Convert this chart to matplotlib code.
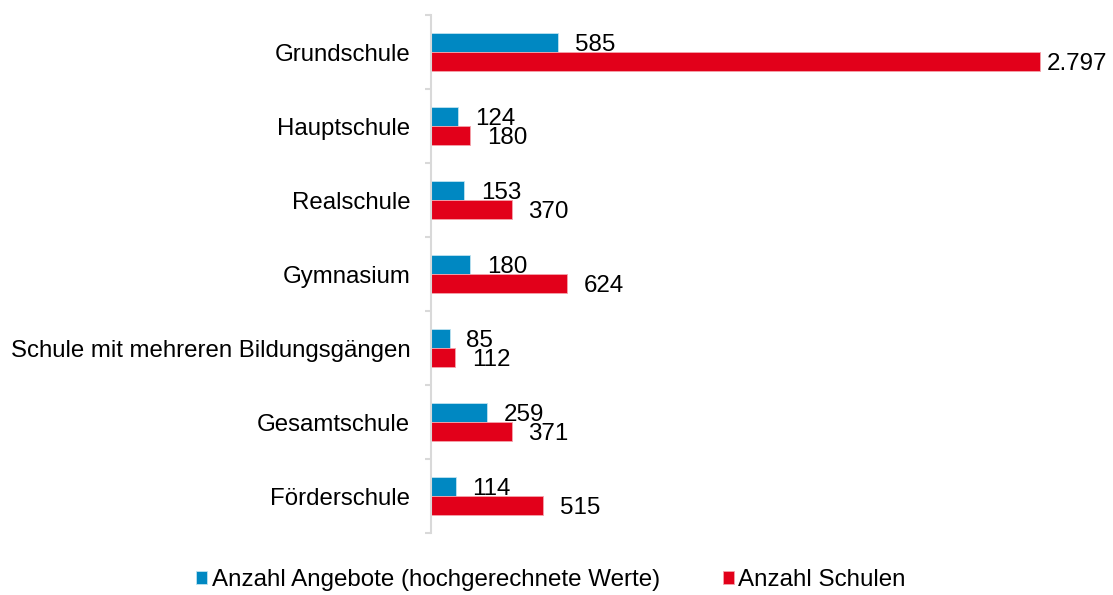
import matplotlib.pyplot as plt
import numpy as np

plt.rcParams['font.family'] = ['Liberation Sans', 'DejaVu Sans']

# Daten
kategorien = ['Grundschule', 'Hauptschule', 'Realschule', 'Gymnasium',
              'Schule mit mehreren Bildungsgängen', 'Gesamtschule', 'Förderschule']
angebote = [585, 124, 153, 180, 85, 259, 114]
schulen = [2797, 180, 370, 624, 112, 371, 515]
legende = ['Anzahl Angebote (hochgerechnete Werte)', 'Anzahl Schulen']

blau = '#0088C2'
rot = '#E2001A'

def fmt(v):
    return f'{v:,}'.replace(',', '.')

fig = plt.figure(figsize=(11.13, 5.95), dpi=100)
ax = fig.add_axes([431 / 1113, 1 - 533 / 595, (1100 - 431) / 1113, 518 / 595])

y = np.arange(len(kategorien))
h = 0.257
b1 = ax.barh(y - h / 2, angebote, height=h, color=blau, edgecolor='#BFE3F0', linewidth=0.6)
b2 = ax.barh(y + h / 2, schulen, height=h, color=rot, edgecolor='#F4A3AC', linewidth=0.6)

ax.set_xlim(0, 2797 * 669 / 609)
ax.set_ylim(len(kategorien) - 0.5, -0.5)

# Datenbeschriftungen
for bars, werte in [(b1, angebote), (b2, schulen)]:
    for bar, v in zip(bars, werte):
        off = 5 if v == max(schulen) else 12
        ax.annotate(fmt(v), (v, bar.get_y() + bar.get_height() / 2),
                    xytext=(off, -1.5), textcoords='offset points',
                    va='center', ha='left', fontsize=17.4, color='black')

# Achsen
for s in ['top', 'right', 'bottom']:
    ax.spines[s].set_visible(False)
ax.spines['left'].set_color('#D9D9D9')
ax.spines['left'].set_linewidth(1.5)
ax.set_xticks([])
ax.set_yticks(y)
ax.set_yticklabels(kategorien, fontsize=17.3)
ax.tick_params(axis='y', which='major', length=0, pad=15)
ax.set_yticks(np.arange(len(kategorien) + 1) - 0.5, minor=True)
ax.tick_params(axis='y', which='minor', length=4.5, width=1.5, color='#D9D9D9')

fig.legend([b1, b2], legende, loc='center', bbox_to_anchor=(551 / 1113, 1 - 580 / 595),
           ncol=2, frameon=False, fontsize=17.4, handlelength=0.45, handleheight=0.45,
           handletextpad=0.2, columnspacing=2.6)

fig.savefig('out.png', dpi=100)
